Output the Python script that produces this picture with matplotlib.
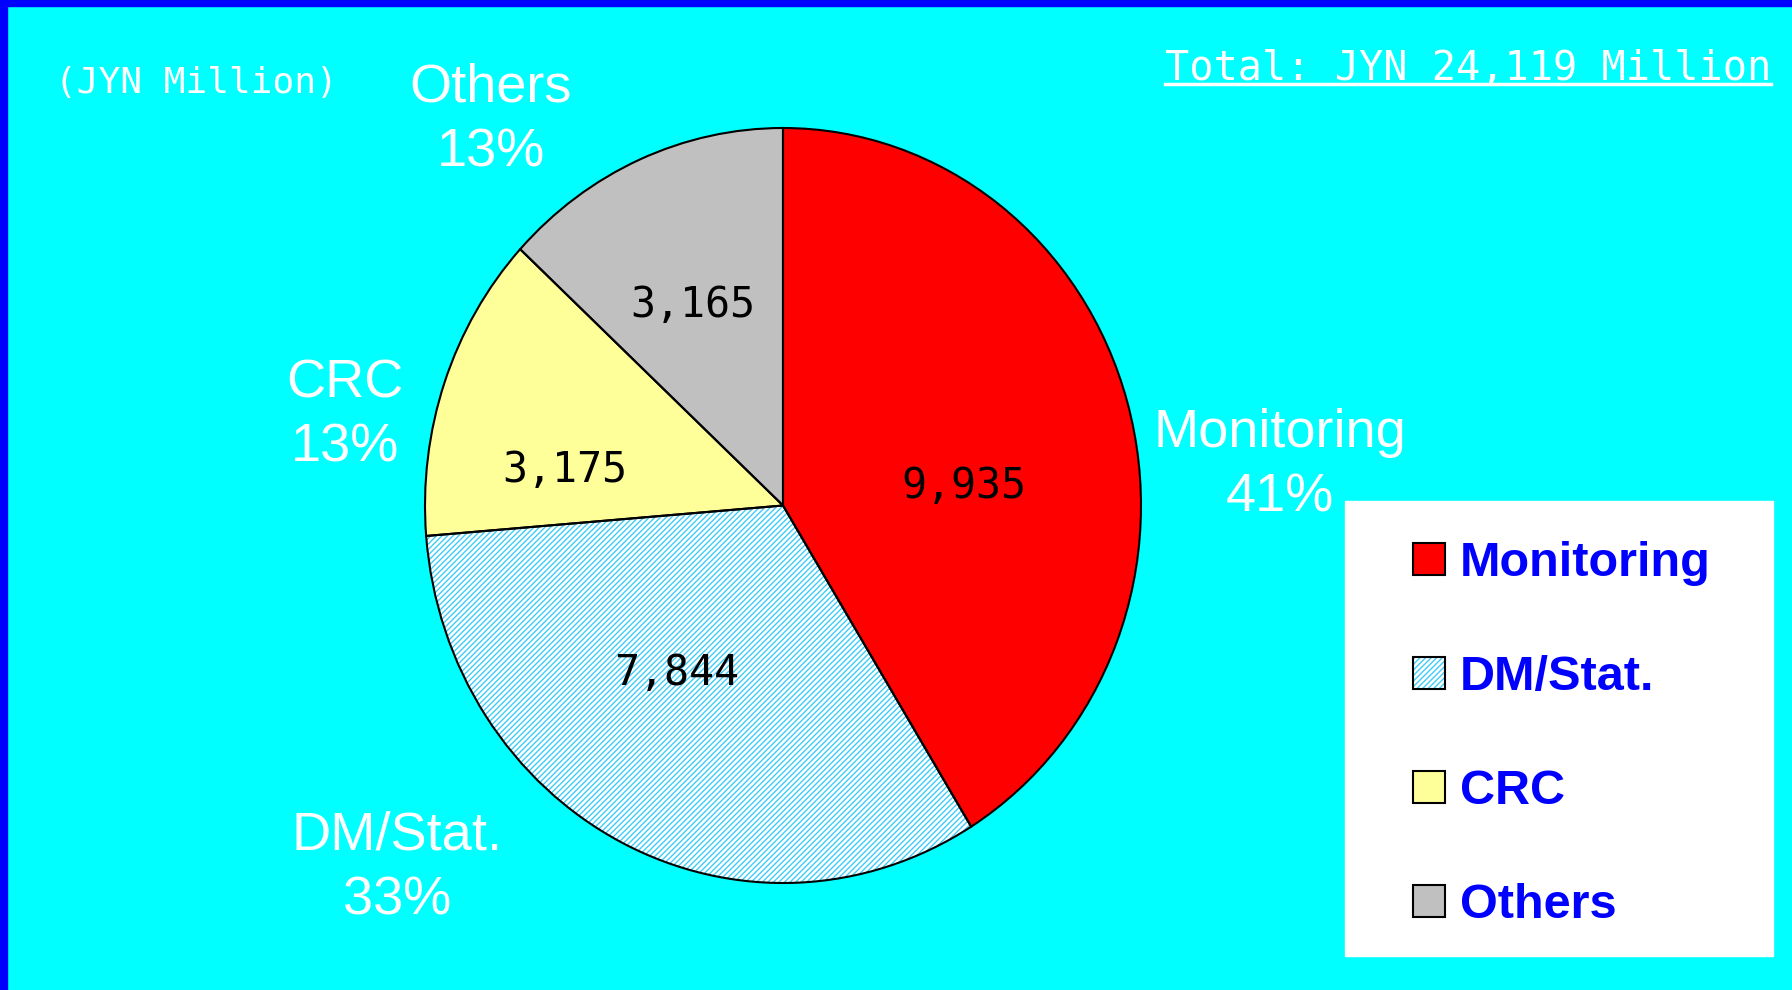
import matplotlib
matplotlib.use('Agg')
import matplotlib.pyplot as plt
from matplotlib import font_manager
from matplotlib.patches import Rectangle
from matplotlib.lines import Line2D

# data
categories = ['Monitoring', 'DM/Stat.', 'CRC', 'Others']
values = [9935, 7844, 3175, 3165]
colors = ['#FF0000', '#FFFFFF', '#FFFF99', '#C0C0C0']
hatches = ['', '//////', '', '']
unit_label = '(JYN Million)'

W, H = 1792, 990


def has_font(name):
    try:
        font_manager.findfont(font_manager.FontProperties(family=name),
                              fallback_to_default=False)
        return True
    except ValueError:
        return False


narrow = 'Liberation Sans Narrow' if has_font('Liberation Sans Narrow') else 'Liberation Sans'
legend_size = 41 if narrow == 'Liberation Sans Narrow' else 35


def fx(px):
    return px / W


def fy(py):
    return 1 - py / H


plt.rcParams['hatch.linewidth'] = 1.0

fig = plt.figure(figsize=(W / 100, H / 100), dpi=100, facecolor='#00FFFF')

# blue frame at top and left
fig.patches.append(Rectangle((0, fy(6)), 1, 6 / H, transform=fig.transFigure,
                             color='#0000FF', zorder=0))
fig.patches.append(Rectangle((0, 0), fx(7), 1, transform=fig.transFigure,
                             color='#0000FF', zorder=0))

# pie (slightly oval like the original)
ax = fig.add_axes([fx(425), fy(883), fx(716), 755 / H])
fills, _ = ax.pie(values, colors=colors, hatch=hatches, startangle=90,
                  counterclock=False,
                  wedgeprops=dict(linewidth=0, edgecolor='#40CCF8'))
outlines, _ = ax.pie(values, startangle=90, counterclock=False,
                     wedgeprops=dict(fill=False, edgecolor='black',
                                     linewidth=1.5, clip_on=False))
ax.set_aspect('auto')
ax.set_xlim(-1, 1)
ax.set_ylim(-1, 1)
ax.axis('off')

total = sum(values)

# outside labels: name + percent
label_pos = [(1280, 408), (397, 811), (345, 358), (491, 63)]
for name, v, (x, y) in zip(categories, values, label_pos):
    fig.text(fx(x), fy(y), f'{name}\n{round(v / total * 100)}%',
             ha='center', va='top', color='white', fontsize=39,
             family='Liberation Sans', linespacing=1.37)

# values inside the slices
value_pos = [(964, 486), (677, 673), (565, 470), (693, 305)]
for v, (x, y) in zip(values, value_pos):
    fig.text(fx(x), fy(y), f'{v:,}', ha='center', va='center',
             color='black', fontsize=30, family='DejaVu Sans Mono')

fig.text(fx(55), fy(83), unit_label, ha='left', va='center', color='white',
         fontsize=26, family='DejaVu Sans Mono')

total_txt = fig.text(fx(1771), fy(80), f'Total: JYN {total:,} Million',
                     ha='right', va='baseline', color='white', fontsize=29,
                     family='DejaVu Sans Mono')

# legend box
fig.patches.append(Rectangle((fx(1345), fy(956)), fx(428), 455 / H,
                             transform=fig.transFigure, color='white',
                             zorder=1))
fig.legend(handles=list(zip(fills, outlines)), labels=categories,
           loc='upper left', bbox_to_anchor=(fx(1413), fy(541)),
           frameon=False, borderpad=0, borderaxespad=0,
           prop=dict(family=narrow, weight='bold', size=legend_size),
           labelcolor='#0000FF', handlelength=0.66, handleheight=0.66,
           handletextpad=0.3, labelspacing=1.42)

# underline of the total
fig.canvas.draw()
bb = total_txt.get_window_extent()
fig.add_artist(Line2D([bb.x0 / W, bb.x1 / W], [fy(84), fy(84)],
                      transform=fig.transFigure, color='white',
                      linewidth=2.5))

fig.savefig('out.png', dpi=100, facecolor=fig.get_facecolor())
